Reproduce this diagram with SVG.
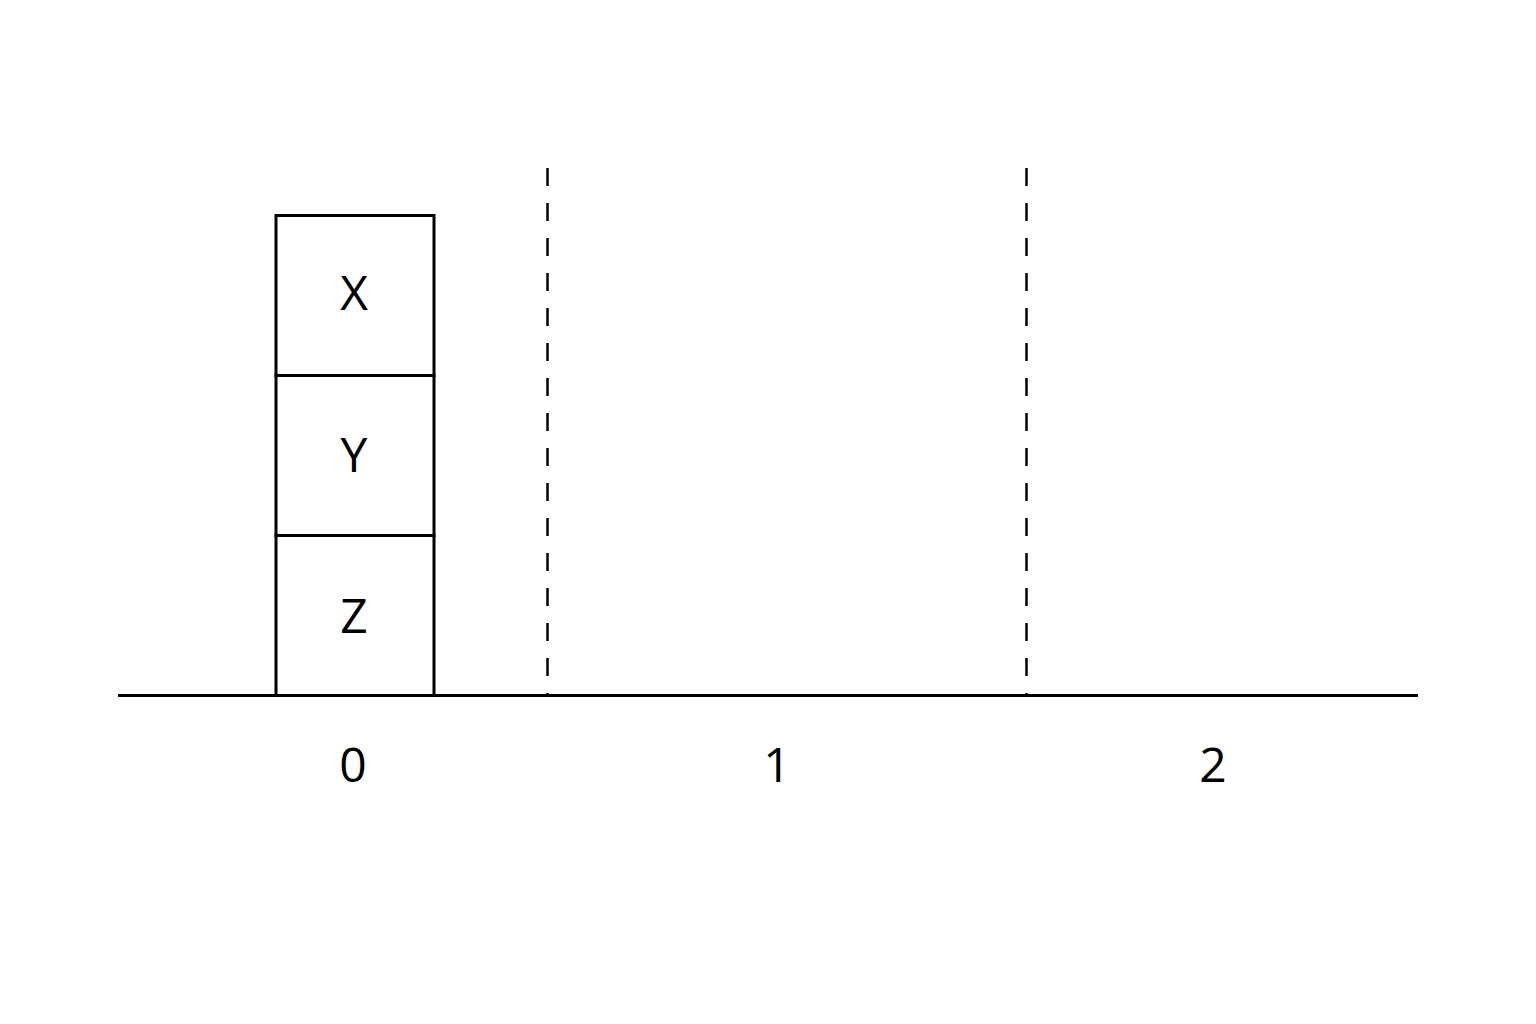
<svg xmlns="http://www.w3.org/2000/svg" width="1536" height="1024" viewBox="0 0 1536 1024">
<style>
.box{fill:#fff;stroke:#000;stroke-width:3}
.lbl{font-family:"Open Sans","Noto Sans","Liberation Sans",sans-serif;font-size:48px;fill:#000;text-anchor:middle}
.dash{stroke:#000;stroke-width:2.5;stroke-dasharray:18 17}
</style>
<rect width="1536" height="1024" fill="#fff"/>
<g id="connectors">
<line class="dash" x1="547.5" y1="168" x2="547.5" y2="695"/>
<line class="dash" x1="1026.5" y1="168" x2="1026.5" y2="695"/>
<line x1="118" y1="695.5" x2="1418" y2="695.5" stroke="#000" stroke-width="3"/>
</g>
<g id="X"><rect class="box" x="276" y="215.5" width="158" height="160"/><text class="lbl" x="354" y="310">X</text></g>
<g id="Y"><rect class="box" x="276" y="375.5" width="158" height="160"/><text class="lbl" x="354" y="472">Y</text></g>
<g id="Z"><rect class="box" x="276" y="535.5" width="158" height="160"/><text class="lbl" x="354" y="633">Z</text></g>
<g id="axis-labels">
<text class="lbl" x="353" y="782">0</text>
<text class="lbl" x="777" y="782">1</text>
<text class="lbl" x="1213" y="782">2</text>
</g>
</svg>
